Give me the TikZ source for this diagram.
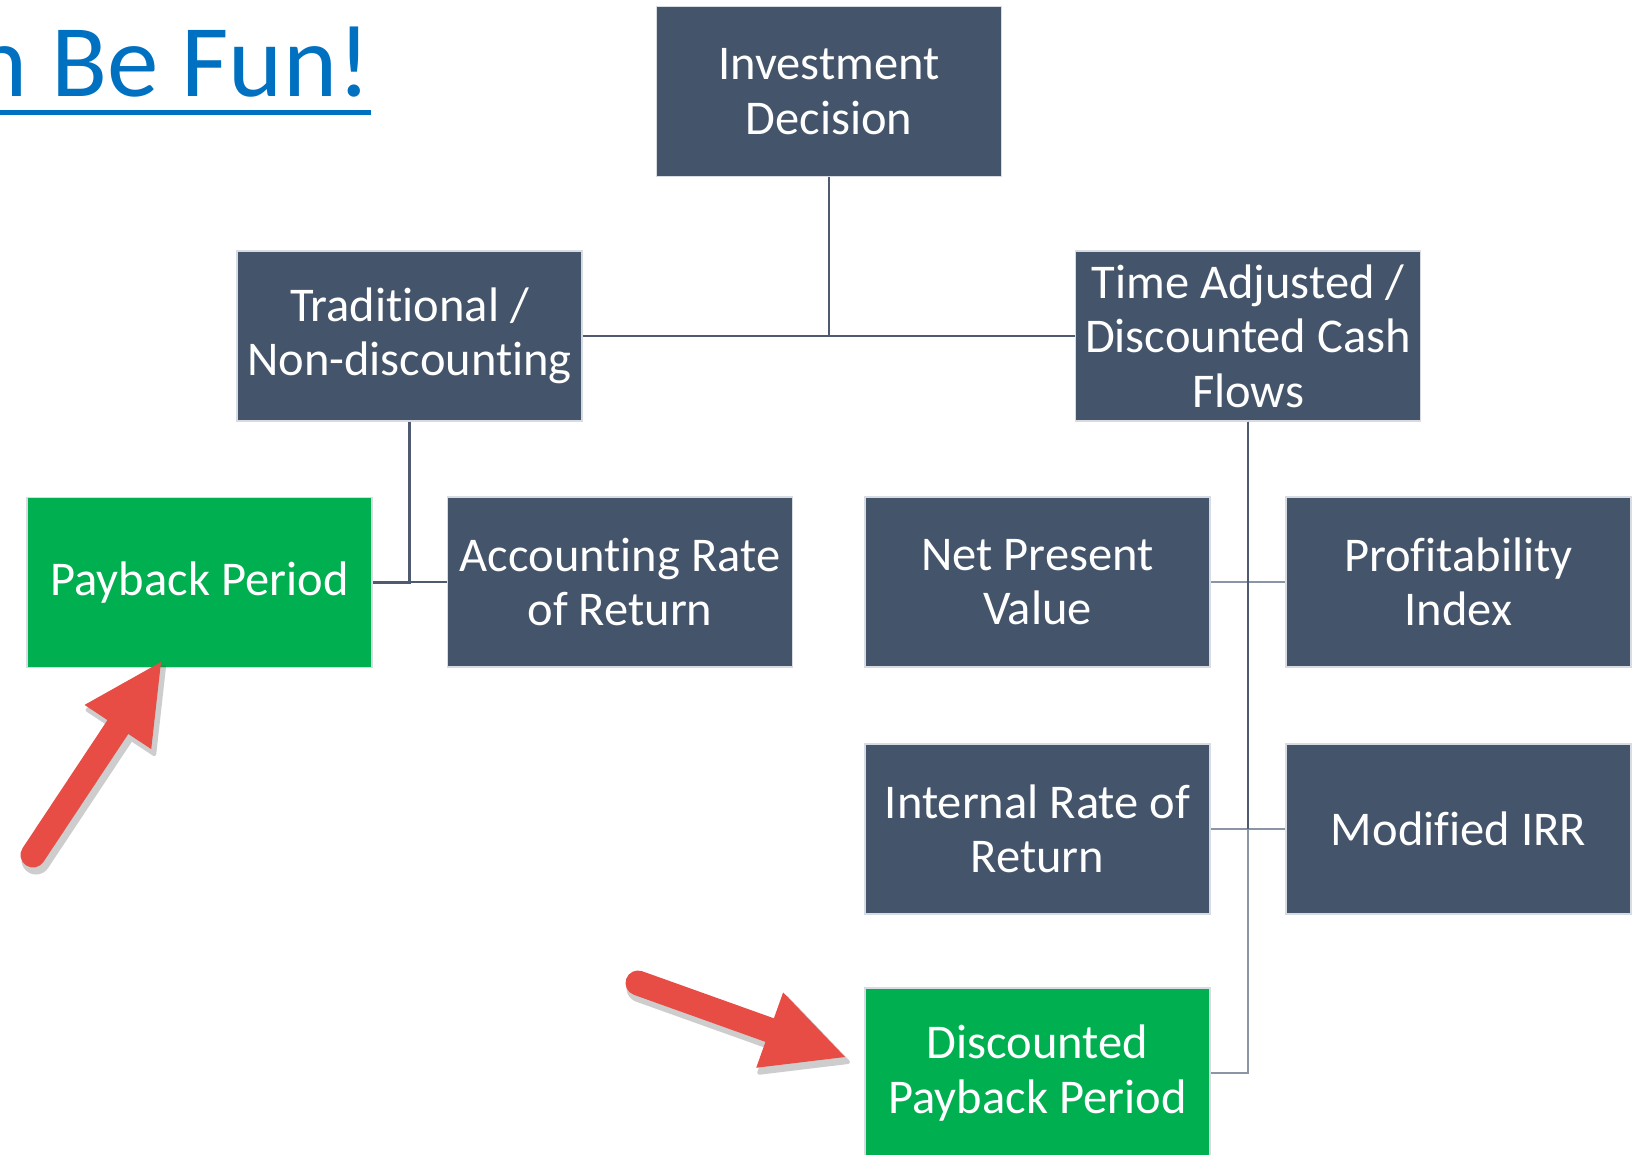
\documentclass[tikz,border=0pt]{standalone}
\usepackage{fontspec}
\setmainfont{Carlito}[Ligatures={NoCommon}]
\usetikzlibrary{calc}
\definecolor{slate}{HTML}{44546A}
\definecolor{leafgreen}{HTML}{00B050}
\definecolor{linkblue}{HTML}{0070C0}
\definecolor{pointer}{HTML}{E74C45}
\definecolor{wire}{HTML}{4D5A70}
\definecolor{wirelight}{HTML}{8A95A5}
\definecolor{rim}{HTML}{D8DCE2}
\begin{document}
\begin{tikzpicture}[x=1pt,y=-1pt,
  box/.style={fill=slate, draw=rim, line width=1.2pt, text=white,
    minimum width=345pt, minimum height=170pt, inner sep=0pt,
    align=center, font=\fontsize{48.5}{54.5}\selectfont},
  hit/.style={box, fill=leafgreen},
  wire/.style={draw=wire, line width=2.6pt},
  softwire/.style={draw=wirelight, line width=2.6pt},
  shaft/.style={line width=25pt, line cap=round},
]
\useasboundingbox[fill=white] (0,0) rectangle (1645,1155);

% heading, partly cut by the left page edge
\node[anchor=base east, inner sep=0pt, text=linkblue,
      font=\fontsize{103}{110}\selectfont] (title) at (371,97) {n Be Fun!};
\coordinate (ul) at (0,113);
\draw[linkblue, line width=5pt] (ul) -- (ul -| title.east);

% boxes
\node[box] (inv)  at (829,91.5)   {Investment\\Decision};
\node[box] (trad) at (409.5,336)  {Traditional /\\Non-discounting};
\node[box] (tad)  at (1248,336)   {Time Adjusted /\\Discounted Cash\\Flows};
\node[hit] (pp)   at (199.5,582.5){Payback Period};
\node[box] (arr)  at (620,582)    {Accounting Rate\\of Return};
\node[box] (npv)  at (1037.5,582) {Net Present\\Value};
\node[box] (pi)   at (1458.5,582) {Profitability\\Index};
\node[box] (irr)  at (1037.5,829) {Internal Rate of\\Return};
\node[box] (mirr) at (1458.5,829) {Modified IRR};
\node[hit] (dpp)  at (1037.5,1073){Discounted\\Payback Period};

% connectors
\draw[wire] (inv.south) -- (inv.south |- trad.east);
\draw[wire] (trad.east) -- (tad.west);
\draw[wire] (trad.south) |- (pp.east);
\draw[wire] (trad.south) |- (arr.west);
\draw[softwire] (tad.south) |- (dpp.east);
\draw[softwire] (tad.south) |- (npv.east);
\draw[softwire] (tad.south) |- (pi.west);
\draw[softwire] (tad.south) |- (irr.east);
\draw[softwire] (tad.south) |- (mirr.west);
\draw[wire] (tad.south) -- (tad.south |- irr.east);

% pointer arrows
\coordinate (t1) at (33,855);
\coordinate (h1) at (161,662);
\coordinate (b1) at ($(h1)!78pt!(t1)$);
\coordinate (l1) at ($(b1)!40pt!90:(h1)$);
\coordinate (r1) at ($(b1)!40pt!-90:(h1)$);
\coordinate (t2) at (638,983);
\coordinate (h2) at (845,1057);
\coordinate (b2) at ($(h2)!80pt!(t2)$);
\coordinate (l2) at ($(b2)!40pt!90:(h2)$);
\coordinate (r2) at ($(b2)!40pt!-90:(h2)$);

\begin{scope}[transform canvas={xshift=3pt,yshift=-5pt}]
  \begin{scope}[transparency group, opacity=.28]
    \draw[black!70, shaft, line width=29pt] (t1) -- (b1);
    \filldraw[black!70, line width=4pt, line join=round] (h1) -- (l1) -- (r1) -- cycle;
    \draw[black!70, shaft, line width=29pt] (t2) -- (b2);
    \filldraw[black!70, line width=4pt, line join=round] (h2) -- (l2) -- (r2) -- cycle;
  \end{scope}
\end{scope}

\draw[pointer, shaft] (t1) -- (b1);
\fill[pointer] (h1) -- (l1) -- (r1) -- cycle;
\draw[pointer, shaft] (t2) -- (b2);
\fill[pointer] (h2) -- (l2) -- (r2) -- cycle;
\end{tikzpicture}
\end{document}
